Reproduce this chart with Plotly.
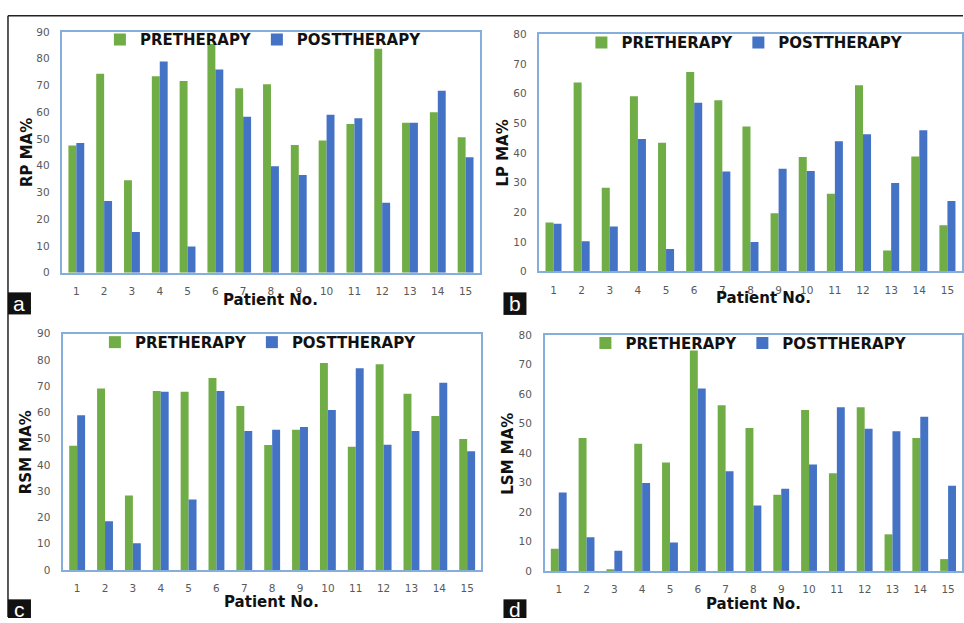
import plotly.graph_objects as go

W, H = 964, 623

patients = list(range(1, 16))
tick_labels = [str(p) for p in patients]

rp_pre = [47.6, 74.4, 34.6, 73.5, 71.7, 85.5, 69.0, 70.5, 47.8, 49.4, 55.6, 83.7, 56.1, 60.0, 50.7]
rp_post = [48.5, 26.8, 15.2, 79.0, 9.8, 76.0, 58.3, 39.8, 36.5, 59.1, 57.8, 26.2, 56.1, 68.0, 43.2]

lp_pre = [16.5, 63.7, 28.2, 59.1, 43.4, 67.2, 57.7, 48.9, 19.6, 38.6, 26.2, 62.8, 7.1, 38.8, 15.6]
lp_post = [16.1, 10.2, 15.2, 44.7, 7.6, 56.9, 33.7, 9.9, 34.6, 33.9, 43.9, 46.3, 29.8, 47.6, 23.8]

rsm_pre = [47.3, 69.1, 28.3, 68.1, 67.8, 73.1, 62.4, 47.6, 53.4, 78.8, 46.9, 78.3, 67.1, 58.6, 49.9]
rsm_post = [58.9, 18.5, 10.2, 67.8, 26.8, 68.1, 52.9, 53.4, 54.4, 60.9, 76.8, 47.7, 52.9, 71.3, 45.2]

lsm_pre = [7.5, 45.0, 0.6, 43.1, 36.7, 74.7, 56.1, 48.4, 25.8, 54.5, 33.1, 55.5, 12.4, 45.0, 4.0]
lsm_post = [26.6, 11.4, 6.8, 29.8, 9.6, 61.8, 33.8, 22.2, 27.8, 36.1, 55.5, 48.2, 47.3, 52.2, 28.9]

series_names = ["PRETHERAPY", "POSTTHERAPY"]
y_titles = ["RP MA%", "LP MA%", "RSM MA%", "LSM MA%"]
x_title = "Patient No."
panel_letters = ["a", "b", "c", "d"]
y_max = [90, 80, 90, 80]

GREEN = "#70AD47"
BLUE = "#4472C4"
FRAME = "#86AEDC"
TICK = "#595959"


def px(x):
    return x / W


def py(y):
    return 1 - y / H


# plot areas in pixels: left, right, top, bottom
areas = [
    (62.5, 480.0, 26.5, 272.0),
    (540.0, 962.5, 28.7, 270.7),
    (63.3, 481.6, 334.0, 575.0),
    (545.4, 963.0, 335.3, 576.0),
]
data_sets = [(rp_pre, rp_post), (lp_pre, lp_post), (rsm_pre, rsm_post), (lsm_pre, lsm_post)]

fig = go.Figure()

# legend left edge (px) and text vertical centre (px)
legend_pos = [(100, 34.5), (582, 37.5), (95, 343), (586, 344)]

for i, ((pre, post), (l, r, t, b)) in enumerate(zip(data_sets, areas)):
    n = "" if i == 0 else str(i + 1)
    leg = "legend" + n
    fig.add_trace(go.Bar(x=patients, y=pre, name=series_names[0], marker_color=GREEN,
                         xaxis="x" + n, yaxis="y" + n, legend=leg, offsetgroup="pre",
                         marker_line_width=0))
    fig.add_trace(go.Bar(x=patients, y=post, name=series_names[1], marker_color=BLUE,
                         xaxis="x" + n, yaxis="y" + n, legend=leg, offsetgroup="post",
                         marker_line_width=0))
    fig.layout["xaxis" + n] = dict(
        domain=[px(l), px(r)], anchor="y" + n, range=[0.5, 15.5],
        tickvals=patients, ticktext=tick_labels, showgrid=False, zeroline=False,
        showline=True, mirror=True, linecolor=FRAME, linewidth=1.5, ticks="",
        tickfont=dict(family="DejaVu Sans", size=10.5, color=TICK), ticklabelstandoff=8,
    )
    fig.layout["yaxis" + n] = dict(
        domain=[py(b), py(t)], anchor="x" + n, range=[0, y_max[i]], dtick=10,
        showgrid=False, zeroline=False, showline=True, mirror=True, linecolor=FRAME,
        linewidth=1.5, ticks="",
        tickfont=dict(family="DejaVu Sans", size=10.5, color=TICK), ticklabelstandoff=9,
    )
    lx, ly = legend_pos[i]
    fig.layout[leg] = dict(
        orientation="h", x=px(lx), y=py(ly), xanchor="left", yanchor="middle",
        bgcolor="rgba(0,0,0,0)", borderwidth=0,
        itemwidth=30, traceorder="normal",
        font=dict(family="DejaVu Sans", size=15, color="#111111", weight="bold"),
    )

# axis titles
ytitle_pos = [(27, 149), (504, 150), (26, 455), (509, 456)]
xtitle_pos = [(271, 300), (764, 298), (272, 608), (754, 610)]
for i in range(4):
    fig.add_annotation(text="<b>%s</b>" % y_titles[i], x=px(ytitle_pos[i][0]), y=py(ytitle_pos[i][1]),
                       xref="paper", yref="paper", showarrow=False, textangle=-90,
                       xanchor="center", yanchor="middle",
                       font=dict(family="DejaVu Sans", size=15, color="#111111"))
    fig.add_annotation(text="<b>%s</b>" % x_title, x=px(xtitle_pos[i][0]), y=py(xtitle_pos[i][1]),
                       xref="paper", yref="paper", showarrow=False,
                       xanchor="center", yanchor="middle",
                       font=dict(family="DejaVu Sans", size=15, color="#111111"))

# outer black frame lines
fig.add_shape(type="line", xref="paper", yref="paper", x0=px(8), x1=1, y0=py(10), y1=py(10),
              line=dict(color="#222222", width=1.5))
fig.add_shape(type="line", xref="paper", yref="paper", x0=px(8), x1=px(8), y0=py(10), y1=0,
              line=dict(color="#222222", width=1.5))

# panel letter boxes
boxes = [(8, 31, 292, 314.5), (504, 527, 292, 315), (8, 31, 605, 624), (504, 527, 605, 624)]
letter_y = [303, 303, 615, 615]
for i, (x0, x1, y0, y1) in enumerate(boxes):
    fig.add_shape(type="rect", xref="paper", yref="paper", x0=px(x0), x1=px(x1), y0=py(y1), y1=py(y0),
                  fillcolor="#111111", line=dict(width=0))
    fig.add_annotation(text=panel_letters[i], x=px((x0 + x1) / 2), y=py(letter_y[i]),
                       xref="paper", yref="paper", showarrow=False,
                       xanchor="center", yanchor="middle",
                       font=dict(family="Liberation Sans", size=21, color="white"))

fig.update_layout(
    width=W, height=H, margin=dict(l=0, r=0, t=0, b=0, pad=0),
    paper_bgcolor="white", plot_bgcolor="white",
    barmode="group", bargap=0.43, bargroupgap=0,
    showlegend=True,
)

fig.write_html(
    "out.html",
    config={"responsive": False, "displayModeBar": False},
    post_script="document.body.style.margin='0px';document.body.style.overflow='hidden';",
)
